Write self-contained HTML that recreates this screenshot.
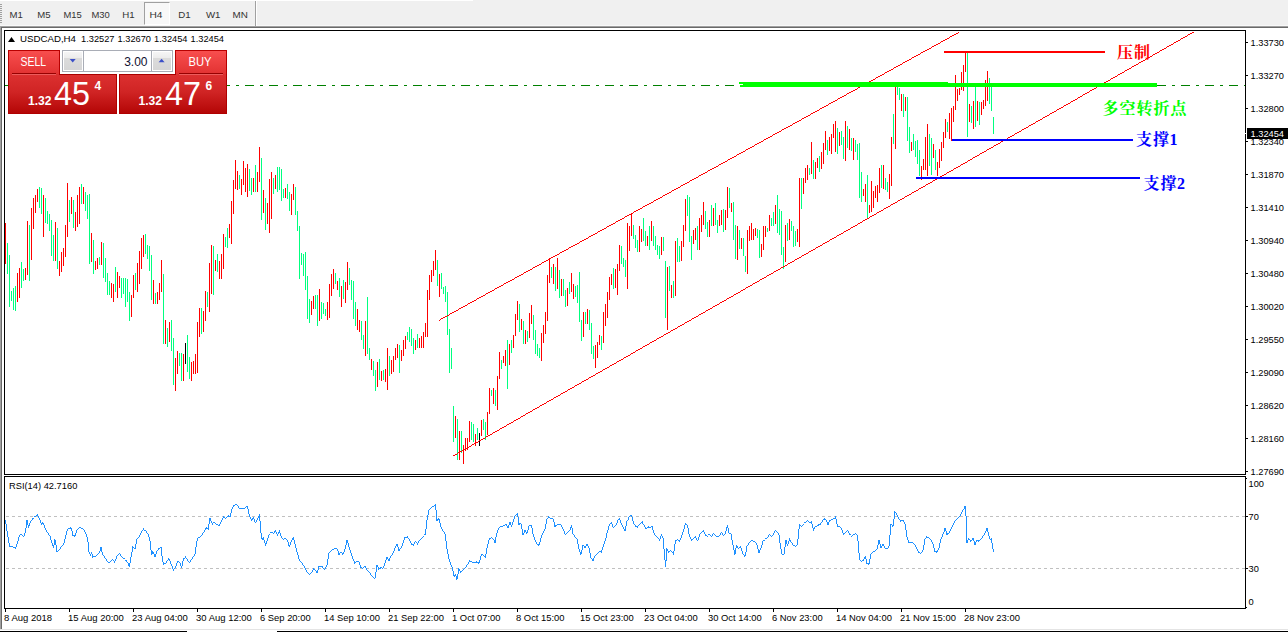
<!DOCTYPE html>
<html><head><meta charset="utf-8"><title>USDCAD,H4</title>
<style>
html,body{margin:0;padding:0;background:#fff;}
body{width:1288px;height:632px;overflow:hidden;position:relative;font-family:"Liberation Sans",sans-serif;}
.abs{position:absolute;}
#tb{left:0;top:0;width:1288px;height:26px;background:#f0f0f0;border-bottom:1px solid #f8f8f8;box-sizing:border-box;}
#tw{left:0;top:0;width:473px;height:1px;background:#fff;}
#l1{left:0;top:26px;width:1288px;height:1px;background:#a0a0a0;}
#l2{left:0;top:27px;width:1288px;height:1px;background:#696969;}
#v1{left:0;top:26px;width:1px;height:604px;background:#a0a0a0;}
#v2{left:1px;top:27px;width:1px;height:602px;background:#696969;}
#b1{left:0;top:629px;width:1288px;height:1px;background:#e4e4e4;}
#b2{left:0;top:631px;width:1288px;height:1px;background:#000;}
#b3{left:187px;top:631px;width:90px;height:1px;background:#fff;}
#h4{left:144px;top:2px;width:26px;height:23px;box-sizing:border-box;background:#f8f8f8;border:1px solid #a0a0a0;border-right-color:#fff;border-bottom-color:#fff;}
#sep{left:255px;top:1px;width:1px;height:25px;background:#a0a0a0;}
#sep2{left:256px;top:1px;width:1px;height:25px;background:#fff;}
#grip{left:0;top:4px;width:2px;height:19px;background:repeating-linear-gradient(#a0a0a0 0 1px,#f0f0f0 1px 2px);}
svg{position:absolute;left:0;top:0;}
/* one click panel */
.red{background:linear-gradient(#dc3030,#d02424 45%,#b40606);border:1px solid #b00000;border-top-color:#a80000;box-sizing:border-box;}
.tab{top:50px;height:24px;background:linear-gradient(#f84e4e,#e23232);border:1px solid #b80000;border-bottom:none;box-sizing:border-box;}
#sellT{left:8px;width:52px;}
#buyT{left:175px;width:52px;}
#sellP{left:8px;top:74px;width:109px;height:40px;}
#buyP{left:119px;top:74px;width:108px;height:40px;}
#inp{left:62px;top:50px;width:111px;height:22px;box-sizing:border-box;border:1px solid #a9adb6;background:#fff;}
.spin{top:52px;width:18px;height:18px;background:linear-gradient(#f5f5f5,#ececec 33%,#dbdbdb 36%,#d6d6d6);}
.sepv{top:51px;width:1px;height:20px;background:#a9adb6;}
</style></head><body>
<div id="tb" class="abs"></div><div id="tw" class="abs"></div><div id="grip" class="abs"></div>
<div id="h4" class="abs"></div><div id="sep" class="abs"></div><div id="sep2" class="abs"></div>
<div id="l1" class="abs"></div><div id="l2" class="abs"></div><div id="v1" class="abs"></div><div id="v2" class="abs"></div>
<div id="b1" class="abs"></div><div id="b2" class="abs"></div><div id="b3" class="abs"></div>
<svg width="1288" height="632" viewBox="0 0 1288 632">
<g font-family="Liberation Sans" font-size="9.5" fill="#333"><text x="9.5" y="17.8" textLength="13.3" lengthAdjust="spacingAndGlyphs">M1</text><text x="37.3" y="17.8" textLength="13.3" lengthAdjust="spacingAndGlyphs">M5</text><text x="63.5" y="17.8" textLength="18.3" lengthAdjust="spacingAndGlyphs">M15</text><text x="91.5" y="17.8" textLength="18.3" lengthAdjust="spacingAndGlyphs">M30</text><text x="122.3" y="17.8" textLength="12.4" lengthAdjust="spacingAndGlyphs">H1</text><text x="149.4" y="17.8" textLength="13" lengthAdjust="spacingAndGlyphs">H4</text><text x="178.3" y="17.8" textLength="12.4" lengthAdjust="spacingAndGlyphs">D1</text><text x="206" y="17.8" textLength="14.5" lengthAdjust="spacingAndGlyphs">W1</text><text x="232.6" y="17.8" textLength="15.3" lengthAdjust="spacingAndGlyphs">MN</text></g>
<g shape-rendering="crispEdges">
<rect x="4.5" y="30.5" width="1241" height="444" fill="none" stroke="#000"/>
<rect x="4.5" y="476.5" width="1241" height="132" fill="none" stroke="#000"/>
<rect x="1246" y="42" width="2" height="1" fill="#000"/>
<rect x="1246" y="75" width="2" height="1" fill="#000"/>
<rect x="1246" y="108" width="2" height="1" fill="#000"/>
<rect x="1246" y="141" width="2" height="1" fill="#000"/>
<rect x="1246" y="174" width="2" height="1" fill="#000"/>
<rect x="1246" y="207" width="2" height="1" fill="#000"/>
<rect x="1246" y="240" width="2" height="1" fill="#000"/>
<rect x="1246" y="273" width="2" height="1" fill="#000"/>
<rect x="1246" y="306" width="2" height="1" fill="#000"/>
<rect x="1246" y="339" width="2" height="1" fill="#000"/>
<rect x="1246" y="372" width="2" height="1" fill="#000"/>
<rect x="1246" y="405" width="2" height="1" fill="#000"/>
<rect x="1246" y="438" width="2" height="1" fill="#000"/>
<rect x="1246" y="471" width="2" height="1" fill="#000"/>
<rect x="1246" y="478" width="1" height="1" fill="#000"/>
<rect x="1246" y="516" width="2" height="1" fill="#000"/>
<rect x="1246" y="568" width="2" height="1" fill="#000"/>
<rect x="1246" y="607" width="1" height="1" fill="#000"/>
<rect x="5" y="609" width="1" height="3" fill="#000"/>
<rect x="69" y="609" width="1" height="3" fill="#000"/>
<rect x="133" y="609" width="1" height="3" fill="#000"/>
<rect x="197" y="609" width="1" height="3" fill="#000"/>
<rect x="261" y="609" width="1" height="3" fill="#000"/>
<rect x="325" y="609" width="1" height="3" fill="#000"/>
<rect x="389" y="609" width="1" height="3" fill="#000"/>
<rect x="453" y="609" width="1" height="3" fill="#000"/>
<rect x="517" y="609" width="1" height="3" fill="#000"/>
<rect x="581" y="609" width="1" height="3" fill="#000"/>
<rect x="645" y="609" width="1" height="3" fill="#000"/>
<rect x="709" y="609" width="1" height="3" fill="#000"/>
<rect x="773" y="609" width="1" height="3" fill="#000"/>
<rect x="837" y="609" width="1" height="3" fill="#000"/>
<rect x="901" y="609" width="1" height="3" fill="#000"/>
<rect x="965" y="609" width="1" height="3" fill="#000"/>
<path d="M6 516.5H1245M6 568.5H1245" stroke="#c0c0c0" stroke-dasharray="3 3" fill="none"/>
<path d="M5 85.5H1245" stroke="#008000" stroke-dasharray="9 6 3 6" fill="none"/>
</g>
<g shape-rendering="crispEdges" fill="none" stroke-width="1">
<path stroke="#00ff7f" d="M7.5 243V274M9.5 255V307M11.5 291V301M13.5 288V310M15.5 286V311M21.5 262V288M23.5 269V281M29.5 225V281M39.5 187V208M41.5 188V214M45.5 198V223M47.5 211V224M49.5 214V231M51.5 220V256M53.5 235V261M57.5 228V269M69.5 200V222M73.5 200V228M81.5 184V204M85.5 192V211M87.5 195V219M89.5 194V264M93.5 240V274M99.5 257V265M103.5 243V278M105.5 258V282M107.5 273V295M109.5 281V295M115.5 267V292M121.5 278V298M123.5 278V294M125.5 278V307M127.5 279V302M129.5 292V321M135.5 273V290M145.5 234V254M147.5 245V259M149.5 246V271M151.5 255V300M155.5 293V304M163.5 274V344M167.5 328V347M171.5 320V351M173.5 338V385M179.5 353V366M181.5 353V381M187.5 335V372M189.5 357V379M201.5 308V334M207.5 292V307M213.5 246V295M217.5 254V272M225.5 237V247M227.5 228V248M239.5 175V189M249.5 169V191M251.5 178V195M255.5 165V192M261.5 158V220M265.5 198V230M273.5 178V194M277.5 167V192M279.5 167V190M281.5 169V201M283.5 189V198M287.5 184V199M289.5 192V211M295.5 187V215M297.5 211V231M299.5 226V279M301.5 253V265M303.5 254V276M305.5 252V290M307.5 276V319M309.5 299V323M315.5 295V309M317.5 295V326M321.5 302V319M323.5 303V314M325.5 309V316M335.5 273V284M339.5 278V297M343.5 280V299M349.5 268V285M351.5 280V300M353.5 281V319M355.5 302V326M361.5 321V340M363.5 335V349M367.5 297V354M369.5 348V360M373.5 361V376M375.5 370V391M379.5 359V380M383.5 370V380M389.5 356V376M399.5 345V373M407.5 332V340M409.5 327V342M411.5 329V346M413.5 338V354M417.5 334V348M437.5 260V286M441.5 273V289M443.5 287V294M445.5 286V302M447.5 292V335M449.5 329V373M451.5 348V369M453.5 406V442M457.5 419V460M461.5 431V453M471.5 422V440M473.5 424V442M477.5 428V440M483.5 419V430M485.5 422V440M491.5 390V396M495.5 390V406M501.5 360V369M507.5 340V389M511.5 340V353M519.5 304V332M523.5 321V344M527.5 331V342M533.5 315V340M535.5 330V354M537.5 344V356M539.5 348V358M551.5 267V278M555.5 267V291M559.5 270V298M563.5 279V296M565.5 290V307M569.5 282V294M575.5 286V297M577.5 285V303M579.5 272V322M581.5 320V341M585.5 312V324M589.5 310V330M591.5 323V354M593.5 346V359M601.5 336V350M613.5 268V289M621.5 246V264M623.5 258V267M625.5 260V277M633.5 225V239M635.5 235V248M637.5 240V252M643.5 218V241M645.5 231V246M649.5 226V250M653.5 226V246M655.5 236V250M657.5 245V255M659.5 246V259M663.5 237V251M665.5 261V318M669.5 266V291M673.5 281V298M677.5 238V262M679.5 246V262M687.5 195V216M689.5 197V242M691.5 236V260M697.5 226V250M705.5 211V229M707.5 222V237M711.5 205V226M715.5 203V225M717.5 220V233M723.5 209V232M729.5 188V208M733.5 202V240M735.5 225V259M739.5 230V249M743.5 238V256M745.5 256V272M757.5 229V238M759.5 230V258M767.5 228V232M771.5 218V226M773.5 212V226M777.5 195V233M779.5 209V235M781.5 211V255M783.5 247V269M787.5 223V241M791.5 221V231M793.5 226V247M795.5 231V246M801.5 178V209M809.5 168V175M813.5 160V179M819.5 156V172M827.5 140V155M837.5 128V154M841.5 131V145M843.5 137V159M847.5 126V148M851.5 138V151M855.5 140V152M857.5 144V160M859.5 143V198M861.5 172V202M867.5 175V218M881.5 165V188M885.5 178V190M887.5 182V192M893.5 114V144M897.5 87V95M899.5 88V100M903.5 94V117M907.5 97V141M909.5 127V153M913.5 134V150M915.5 141V157M917.5 140V164M919.5 150V176M929.5 134V166M931.5 138V175M935.5 150V170M947.5 122V132M967.5 53V137M971.5 106V123M975.5 87V127M979.5 102V125M989.5 78V104M991.5 87V111M993.5 117V134"/>
<path stroke="#ff0000" d="M5.5 223V264M17.5 273V302M19.5 268V298M25.5 268V280M27.5 221V275M31.5 208V260M33.5 198V229M35.5 195V213M37.5 189V202M43.5 195V237M55.5 222V261M59.5 261V276M61.5 252V272M63.5 248V266M65.5 225V257M67.5 183V237M71.5 197V214M75.5 212V231M77.5 195V227M79.5 187V224M83.5 187V204M91.5 233V262M95.5 261V270M97.5 258V269M101.5 242V265M111.5 283V298M113.5 284V302M117.5 272V298M119.5 276V288M131.5 295V317M133.5 275V298M137.5 263V292M139.5 251V284M141.5 238V269M143.5 235V257M153.5 280V304M157.5 292V304M159.5 283V300M161.5 260V292M165.5 320V344M169.5 322V342M175.5 358V391M177.5 351V374M183.5 354V381M191.5 362V381M193.5 361V374M195.5 354V374M197.5 322V373M199.5 308V337M203.5 311V332M205.5 291V321M209.5 263V312M211.5 245V294M215.5 260V271M219.5 261V279M221.5 254V279M223.5 234V269M229.5 224V238M231.5 201V244M233.5 180V214M235.5 160V189M237.5 171V190M241.5 179V195M243.5 161V185M245.5 168V192M247.5 164V197M253.5 178V192M257.5 172V192M259.5 147V182M263.5 190V213M267.5 203V224M269.5 179V233M271.5 172V219M275.5 175V189M285.5 188V198M291.5 194V215M293.5 184V200M311.5 301V315M313.5 296V309M319.5 289V321M327.5 302V320M329.5 284V318M331.5 274V296M333.5 269V289M337.5 281V290M341.5 286V307M345.5 282V303M347.5 262V290M357.5 309V330M359.5 320V332M365.5 321V356M371.5 359V370M377.5 362V387M381.5 371V381M385.5 369V382M387.5 348V390M391.5 360V374M393.5 356V372M395.5 348V360M397.5 344V358M401.5 350V361M403.5 340V356M405.5 336V349M415.5 340V350M419.5 338V348M421.5 336V348M423.5 332V348M425.5 323V337M427.5 290V337M429.5 275V300M431.5 270V282M433.5 261V276M435.5 250V270M439.5 274V297M455.5 416V438M459.5 431V460M463.5 445V464M465.5 438V451M467.5 438V450M469.5 421V442M475.5 434V446M481.5 420V436M487.5 412V435M489.5 388V414M493.5 388V404M497.5 376V410M499.5 352V379M503.5 356V363M505.5 350V366M509.5 344V365M513.5 335V348M515.5 314V336M517.5 301V320M521.5 319V330M525.5 330V344M529.5 313V338M531.5 305V324M541.5 333V361M543.5 325V343M545.5 312V334M547.5 275V321M549.5 258V283M553.5 264V284M557.5 258V289M561.5 279V296M567.5 288V306M571.5 273V292M573.5 284V299M583.5 312V337M587.5 309V324M595.5 345V368M597.5 342V358M599.5 335V345M603.5 312V343M605.5 304V326M607.5 292V318M609.5 277V300M611.5 274V285M615.5 269V288M617.5 264V295M619.5 245V271M627.5 223V289M629.5 226V251M631.5 214V236M639.5 226V252M641.5 229V242M647.5 236V246M651.5 221V241M661.5 237V255M667.5 267V330M671.5 285V298M675.5 241V296M681.5 241V261M683.5 225V247M685.5 199V231M693.5 230V244M695.5 228V240M699.5 218V250M701.5 215V232M703.5 202V225M709.5 220V237M713.5 208V226M719.5 215V226M721.5 210V225M725.5 210V230M727.5 187V218M731.5 203V212M737.5 226V260M741.5 238V249M747.5 230V274M749.5 226V241M751.5 223V240M753.5 229V240M755.5 228V236M761.5 244V257M763.5 226V250M765.5 226V237M769.5 215V231M775.5 205V224M785.5 225V262M789.5 219V240M797.5 229V242M799.5 178V247M803.5 178V194M805.5 168V183M807.5 165V180M811.5 142V174M815.5 162V179M817.5 158V168M821.5 152V169M823.5 143V164M825.5 131V150M829.5 137V151M831.5 134V154M833.5 124V138M835.5 121V152M839.5 132V146M845.5 121V161M849.5 129V150M853.5 138V160M863.5 189V196M865.5 184V202M869.5 205V213M871.5 181V212M873.5 191V208M875.5 186V198M877.5 185V202M879.5 168V193M883.5 165V189M889.5 174V199M891.5 137V186M895.5 87V149M901.5 94V111M905.5 97V111M911.5 142V151M921.5 166V180M923.5 159V170M925.5 137V170M927.5 124V176M933.5 144V158M937.5 162V176M939.5 149V168M941.5 142V161M943.5 132V148M945.5 119V138M949.5 113V139M951.5 108V141M953.5 106V122M955.5 75V110M957.5 89V101M959.5 88V95M961.5 72V90M963.5 65V91M965.5 53V72M969.5 104V122M973.5 101V129M977.5 101V121M981.5 102V115M983.5 100V109M985.5 80V106M987.5 71V101"/>
<path stroke="#000" d="M185.5 343V364M479.5 433V446"/>
</g>
<g shape-rendering="crispEdges">
<path d="M958 32.5h1M1192 32.5h2M956 33.5h2M1190 33.5h2M954 34.5h2M1188 34.5h2M952 35.5h2M1187 35.5h1M950 36.5h2M1185 36.5h2M949 37.5h1M1183 37.5h2M947 38.5h2M1181 38.5h2M945 39.5h2M1180 39.5h1M943 40.5h2M1178 40.5h2M941 41.5h2M1176 41.5h2M940 42.5h1M1174 42.5h2M938 43.5h2M1173 43.5h1M936 44.5h2M1171 44.5h2M934 45.5h2M1169 45.5h2M932 46.5h2M1167 46.5h2M931 47.5h1M1166 47.5h1M929 48.5h2M1164 48.5h2M927 49.5h2M1162 49.5h2M925 50.5h2M1160 50.5h2M923 51.5h2M1159 51.5h1M921 52.5h2M1157 52.5h2M920 53.5h1M1155 53.5h2M918 54.5h2M1153 54.5h2M916 55.5h2M1152 55.5h1M914 56.5h2M1150 56.5h2M912 57.5h2M1148 57.5h2M911 58.5h1M1146 58.5h2M909 59.5h2M1145 59.5h1M907 60.5h2M1143 60.5h2M905 61.5h2M1141 61.5h2M903 62.5h2M1139 62.5h2M902 63.5h1M1138 63.5h1M900 64.5h2M1136 64.5h2M898 65.5h2M1134 65.5h2M896 66.5h2M1132 66.5h2M894 67.5h2M1131 67.5h1M893 68.5h1M1129 68.5h2M891 69.5h2M1127 69.5h2M889 70.5h2M1125 70.5h2M887 71.5h2M1124 71.5h1M885 72.5h2M1122 72.5h2M884 73.5h1M1120 73.5h2M882 74.5h2M1118 74.5h2M880 75.5h2M1117 75.5h1M878 76.5h2M1115 76.5h2M876 77.5h2M1113 77.5h2M875 78.5h1M1111 78.5h2M873 79.5h2M1110 79.5h1M871 80.5h2M1108 80.5h2M869 81.5h2M1106 81.5h2M867 82.5h2M1104 82.5h2M866 83.5h1M1103 83.5h1M864 84.5h2M1101 84.5h2M862 85.5h2M1099 85.5h2M860 86.5h2M1097 86.5h2M858 87.5h2M1096 87.5h1M857 88.5h1M1094 88.5h2M855 89.5h2M1092 89.5h2M853 90.5h2M1090 90.5h2M851 91.5h2M1089 91.5h1M849 92.5h2M1087 92.5h2M847 93.5h2M1085 93.5h2M846 94.5h1M1083 94.5h2M844 95.5h2M1082 95.5h1M842 96.5h2M1080 96.5h2M840 97.5h2M1078 97.5h2M838 98.5h2M1077 98.5h1M837 99.5h1M1075 99.5h2M835 100.5h2M1073 100.5h2M833 101.5h2M1071 101.5h2M831 102.5h2M1070 102.5h1M829 103.5h2M1068 103.5h2M828 104.5h1M1066 104.5h2M826 105.5h2M1064 105.5h2M824 106.5h2M1063 106.5h1M822 107.5h2M1061 107.5h2M820 108.5h2M1059 108.5h2M819 109.5h1M1057 109.5h2M817 110.5h2M1056 110.5h1M815 111.5h2M1054 111.5h2M813 112.5h2M1052 112.5h2M811 113.5h2M1050 113.5h2M810 114.5h1M1049 114.5h1M808 115.5h2M1047 115.5h2M806 116.5h2M1045 116.5h2M804 117.5h2M1043 117.5h2M802 118.5h2M1042 118.5h1M801 119.5h1M1040 119.5h2M799 120.5h2M1038 120.5h2M797 121.5h2M1036 121.5h2M795 122.5h2M1035 122.5h1M793 123.5h2M1033 123.5h2M792 124.5h1M1031 124.5h2M790 125.5h2M1029 125.5h2M788 126.5h2M1028 126.5h1M786 127.5h2M1026 127.5h2M784 128.5h2M1024 128.5h2M782 129.5h2M1022 129.5h2M781 130.5h1M1021 130.5h1M779 131.5h2M1019 131.5h2M777 132.5h2M1017 132.5h2M775 133.5h2M1015 133.5h2M773 134.5h2M1014 134.5h1M772 135.5h1M1012 135.5h2M770 136.5h2M1010 136.5h2M768 137.5h2M1008 137.5h2M766 138.5h2M1007 138.5h1M764 139.5h2M1005 139.5h2M763 140.5h1M1003 140.5h2M761 141.5h2M1001 141.5h2M759 142.5h2M1000 142.5h1M757 143.5h2M998 143.5h2M755 144.5h2M996 144.5h2M754 145.5h1M994 145.5h2M752 146.5h2M993 146.5h1M750 147.5h2M991 147.5h2M748 148.5h2M989 148.5h2M746 149.5h2M987 149.5h2M745 150.5h1M986 150.5h1M743 151.5h2M984 151.5h2M741 152.5h2M982 152.5h2M739 153.5h2M980 153.5h2M737 154.5h2M979 154.5h1M736 155.5h1M977 155.5h2M734 156.5h2M975 156.5h2M732 157.5h2M973 157.5h2M730 158.5h2M972 158.5h1M728 159.5h2M970 159.5h2M727 160.5h1M968 160.5h2M725 161.5h2M967 161.5h1M723 162.5h2M965 162.5h2M721 163.5h2M963 163.5h2M719 164.5h2M961 164.5h2M718 165.5h1M960 165.5h1M716 166.5h2M958 166.5h2M714 167.5h2M956 167.5h2M712 168.5h2M954 168.5h2M710 169.5h2M953 169.5h1M708 170.5h2M951 170.5h2M707 171.5h1M949 171.5h2M705 172.5h2M947 172.5h2M703 173.5h2M946 173.5h1M701 174.5h2M944 174.5h2M699 175.5h2M942 175.5h2M698 176.5h1M940 176.5h2M696 177.5h2M939 177.5h1M694 178.5h2M937 178.5h2M692 179.5h2M935 179.5h2M690 180.5h2M933 180.5h2M689 181.5h1M932 181.5h1M687 182.5h2M930 182.5h2M685 183.5h2M928 183.5h2M683 184.5h2M926 184.5h2M681 185.5h2M925 185.5h1M680 186.5h1M923 186.5h2M678 187.5h2M921 187.5h2M676 188.5h2M919 188.5h2M674 189.5h2M918 189.5h1M672 190.5h2M916 190.5h2M671 191.5h1M914 191.5h2M669 192.5h2M912 192.5h2M667 193.5h2M911 193.5h1M665 194.5h2M909 194.5h2M663 195.5h2M907 195.5h2M662 196.5h1M905 196.5h2M660 197.5h2M904 197.5h1M658 198.5h2M902 198.5h2M656 199.5h2M900 199.5h2M654 200.5h2M898 200.5h2M653 201.5h1M897 201.5h1M651 202.5h2M895 202.5h2M649 203.5h2M893 203.5h2M647 204.5h2M891 204.5h2M645 205.5h2M890 205.5h1M643 206.5h2M888 206.5h2M642 207.5h1M886 207.5h2M640 208.5h2M884 208.5h2M638 209.5h2M883 209.5h1M636 210.5h2M881 210.5h2M634 211.5h2M879 211.5h2M633 212.5h1M877 212.5h2M631 213.5h2M876 213.5h1M629 214.5h2M874 214.5h2M627 215.5h2M872 215.5h2M625 216.5h2M870 216.5h2M624 217.5h1M869 217.5h1M622 218.5h2M867 218.5h2M620 219.5h2M865 219.5h2M618 220.5h2M863 220.5h2M616 221.5h2M862 221.5h1M615 222.5h1M860 222.5h2M613 223.5h2M858 223.5h2M611 224.5h2M857 224.5h1M609 225.5h2M855 225.5h2M607 226.5h2M853 226.5h2M606 227.5h1M851 227.5h2M604 228.5h2M850 228.5h1M602 229.5h2M848 229.5h2M600 230.5h2M846 230.5h2M598 231.5h2M844 231.5h2M597 232.5h1M843 232.5h1M595 233.5h2M841 233.5h2M593 234.5h2M839 234.5h2M591 235.5h2M837 235.5h2M589 236.5h2M836 236.5h1M588 237.5h1M834 237.5h2M586 238.5h2M832 238.5h2M584 239.5h2M830 239.5h2M582 240.5h2M829 240.5h1M580 241.5h2M827 241.5h2M579 242.5h1M825 242.5h2M577 243.5h2M823 243.5h2M575 244.5h2M822 244.5h1M573 245.5h2M820 245.5h2M571 246.5h2M818 246.5h2M569 247.5h2M816 247.5h2M568 248.5h1M815 248.5h1M566 249.5h2M813 249.5h2M564 250.5h2M811 250.5h2M562 251.5h2M809 251.5h2M560 252.5h2M808 252.5h1M559 253.5h1M806 253.5h2M557 254.5h2M804 254.5h2M555 255.5h2M802 255.5h2M553 256.5h2M801 256.5h1M551 257.5h2M799 257.5h2M550 258.5h1M797 258.5h2M548 259.5h2M795 259.5h2M546 260.5h2M794 260.5h1M544 261.5h2M792 261.5h2M542 262.5h2M790 262.5h2M541 263.5h1M788 263.5h2M539 264.5h2M787 264.5h1M537 265.5h2M785 265.5h2M535 266.5h2M783 266.5h2M533 267.5h2M781 267.5h2M532 268.5h1M780 268.5h1M530 269.5h2M778 269.5h2M528 270.5h2M776 270.5h2M526 271.5h2M774 271.5h2M524 272.5h2M773 272.5h1M523 273.5h1M771 273.5h2M521 274.5h2M769 274.5h2M519 275.5h2M767 275.5h2M517 276.5h2M766 276.5h1M515 277.5h2M764 277.5h2M514 278.5h1M762 278.5h2M512 279.5h2M760 279.5h2M510 280.5h2M759 280.5h1M508 281.5h2M757 281.5h2M506 282.5h2M755 282.5h2M504 283.5h2M753 283.5h2M503 284.5h1M752 284.5h1M501 285.5h2M750 285.5h2M499 286.5h2M748 286.5h2M497 287.5h2M746 287.5h2M495 288.5h2M745 288.5h1M494 289.5h1M743 289.5h2M492 290.5h2M741 290.5h2M490 291.5h2M740 291.5h1M488 292.5h2M738 292.5h2M486 293.5h2M736 293.5h2M485 294.5h1M734 294.5h2M483 295.5h2M733 295.5h1M481 296.5h2M731 296.5h2M479 297.5h2M729 297.5h2M477 298.5h2M727 298.5h2M476 299.5h1M726 299.5h1M474 300.5h2M724 300.5h2M472 301.5h2M722 301.5h2M470 302.5h2M720 302.5h2M468 303.5h2M719 303.5h1M467 304.5h1M717 304.5h2M465 305.5h2M715 305.5h2M463 306.5h2M713 306.5h2M461 307.5h2M712 307.5h1M459 308.5h2M710 308.5h2M458 309.5h1M708 309.5h2M456 310.5h2M706 310.5h2M454 311.5h2M705 311.5h1M452 312.5h2M703 312.5h2M450 313.5h2M701 313.5h2M449 314.5h1M699 314.5h2M447 315.5h2M698 315.5h1M445 316.5h2M696 316.5h2M443 317.5h2M694 317.5h2M441 318.5h2M692 318.5h2M440 319.5h1M691 319.5h1M439 320.5h1M689 320.5h2M687 321.5h2M685 322.5h2M684 323.5h1M682 324.5h2M680 325.5h2M678 326.5h2M677 327.5h1M675 328.5h2M673 329.5h2M671 330.5h2M670 331.5h1M668 332.5h2M666 333.5h2M664 334.5h2M663 335.5h1M661 336.5h2M659 337.5h2M657 338.5h2M656 339.5h1M654 340.5h2M652 341.5h2M650 342.5h2M649 343.5h1M647 344.5h2M645 345.5h2M643 346.5h2M642 347.5h1M640 348.5h2M638 349.5h2M636 350.5h2M635 351.5h1M633 352.5h2M631 353.5h2M630 354.5h1M628 355.5h2M626 356.5h2M624 357.5h2M623 358.5h1M621 359.5h2M619 360.5h2M617 361.5h2M616 362.5h1M614 363.5h2M612 364.5h2M610 365.5h2M609 366.5h1M607 367.5h2M605 368.5h2M603 369.5h2M602 370.5h1M600 371.5h2M598 372.5h2M596 373.5h2M595 374.5h1M593 375.5h2M591 376.5h2M589 377.5h2M588 378.5h1M586 379.5h2M584 380.5h2M582 381.5h2M581 382.5h1M579 383.5h2M577 384.5h2M575 385.5h2M574 386.5h1M572 387.5h2M570 388.5h2M568 389.5h2M567 390.5h1M565 391.5h2M563 392.5h2M561 393.5h2M560 394.5h1M558 395.5h2M556 396.5h2M554 397.5h2M553 398.5h1M551 399.5h2M549 400.5h2M547 401.5h2M546 402.5h1M544 403.5h2M542 404.5h2M540 405.5h2M539 406.5h1M537 407.5h2M535 408.5h2M533 409.5h2M532 410.5h1M530 411.5h2M528 412.5h2M526 413.5h2M525 414.5h1M523 415.5h2M521 416.5h2M520 417.5h1M518 418.5h2M516 419.5h2M514 420.5h2M513 421.5h1M511 422.5h2M509 423.5h2M507 424.5h2M506 425.5h1M504 426.5h2M502 427.5h2M500 428.5h2M499 429.5h1M497 430.5h2M495 431.5h2M493 432.5h2M492 433.5h1M490 434.5h2M488 435.5h2M486 436.5h2M485 437.5h1M483 438.5h2M481 439.5h2M479 440.5h2M478 441.5h1M476 442.5h2M474 443.5h2M472 444.5h2M471 445.5h1M469 446.5h2M467 447.5h2M465 448.5h2M464 449.5h1M462 450.5h2M460 451.5h2M458 452.5h2M457 453.5h1M455 454.5h2M453 455.5h2" stroke="#ff0000" fill="none"/>
<rect x="944" y="51" width="161" height="2" fill="#ff0000"/>
<path d="M739 82H948V87H740V85H743V84H739Z" fill="#00ff00"/>
<rect x="948" y="83" width="209" height="4" fill="#00ff00"/>
<rect x="952" y="139" width="181" height="2" fill="#0000ff"/>
<rect x="916" y="177" width="224" height="2" fill="#0000ff"/>
</g>
<text x="1117 1134" y="58.08" font-family="'Liberation Serif','Noto Serif CJK SC',serif" font-weight="bold" font-size="16" fill="#ff0000">压制</text>
<text x="1102.5 1119.5 1136.5 1153.5 1170.5" y="114.08" font-family="'Liberation Serif','Noto Serif CJK SC',serif" font-weight="bold" font-size="16" fill="#00ff00">多空转折点</text>
<text x="1136 1153" y="145.08" font-family="'Liberation Serif','Noto Serif CJK SC',serif" font-weight="bold" font-size="16" fill="#0000ff">支撑</text>
<text x="1143.5 1160.5" y="189.08" font-family="'Liberation Serif','Noto Serif CJK SC',serif" font-weight="bold" font-size="16" fill="#0000ff">支撑</text>
<text x="1169.5" y="145" font-family="Liberation Serif" font-weight="bold" font-size="16" fill="#0000ff">1</text>
<text x="1177" y="189" font-family="Liberation Serif" font-weight="bold" font-size="16" fill="#0000ff">2</text>
<path shape-rendering="crispEdges" fill="none" stroke="#1e90ff" d="M5.5 520v4M6.5 524v7M7.5 531v6M8.5 537v6M9.5 543v4M10.5 546v1M11.5 546v1M12.5 546v1M13.5 547v1M14.5 547v1M15.5 547v2M16.5 544v3M17.5 541v3M18.5 537v4M19.5 535v2M20.5 534v1M21.5 534v1M22.5 535v1M23.5 536v1M24.5 533v3M25.5 528v5M26.5 520v8M27.5 520v5M28.5 525v3M29.5 523v3M30.5 521v2M31.5 520v1M32.5 518v2M33.5 518v1M34.5 516v1M35.5 516v1M36.5 515v1M37.5 514v2M38.5 516v2M39.5 518v2M40.5 520v3M41.5 523v2M42.5 522v2M43.5 523v2M44.5 525v3M45.5 528v2M46.5 530v2M47.5 532v1M48.5 533v2M49.5 535v1M50.5 536v4M51.5 540v3M52.5 543v3M53.5 545v3M54.5 539v6M55.5 540v5M56.5 545v7M57.5 551v1M58.5 550v1M59.5 549v1M60.5 547v2M61.5 546v1M62.5 545v1M63.5 543v2M64.5 539v4M65.5 535v4M66.5 531v4M67.5 529v2M68.5 528v1M69.5 528v1M70.5 527v2M71.5 528v3M72.5 531v5M73.5 535v1M74.5 535v2M75.5 533v3M76.5 530v3M77.5 529v1M78.5 528v1M79.5 527v1M80.5 527v1M81.5 528v1M82.5 528v1M83.5 529v1M84.5 530v2M85.5 532v2M86.5 534v3M87.5 537v5M88.5 542v10M89.5 552v2M90.5 554v2M91.5 552v2M92.5 554v4M93.5 556v1M94.5 556v1M95.5 556v1M96.5 555v1M97.5 554v1M98.5 553v1M99.5 551v2M100.5 547v4M101.5 547v5M102.5 552v3M103.5 555v1M104.5 556v2M105.5 558v1M106.5 559v2M107.5 561v1M108.5 562v1M109.5 562v1M110.5 561v1M111.5 560v1M112.5 559v1M113.5 560v1M114.5 561v2M115.5 559v2M116.5 556v3M117.5 555v1M118.5 554v1M119.5 553v1M120.5 554v2M121.5 556v1M122.5 557v1M123.5 558v1M124.5 558v1M125.5 560v1M126.5 560v2M127.5 562v1M128.5 563v3M129.5 563v4M130.5 557v6M131.5 552v5M132.5 546v6M133.5 547v1M134.5 548v1M135.5 544v5M136.5 539v5M137.5 538v1M138.5 537v1M139.5 535v2M140.5 533v2M141.5 531v2M142.5 530v1M143.5 528v2M144.5 530v1M145.5 530v1M146.5 531v2M147.5 533v1M148.5 534v3M149.5 537v4M150.5 541v9M151.5 550v5M152.5 551v3M153.5 552v2M154.5 554v3M155.5 554v3M156.5 551v3M157.5 550v1M158.5 548v2M159.5 548v1M160.5 547v1M161.5 547v9M162.5 556v6M163.5 562v3M164.5 563v1M165.5 563v1M166.5 561v2M167.5 560v1M168.5 558v2M169.5 559v2M170.5 561v3M171.5 564v2M172.5 566v3M173.5 569v2M174.5 568v1M175.5 566v2M176.5 563v3M177.5 561v2M178.5 561v1M179.5 562v1M180.5 563v3M181.5 566v2M182.5 561v5M183.5 558v3M184.5 558v1M185.5 556v2M186.5 558v1M187.5 559v2M188.5 561v1M189.5 562v1M190.5 560v2M191.5 559v1M192.5 557v2M193.5 556v1M194.5 554v2M195.5 547v7M196.5 541v6M197.5 538v3M198.5 537v1M199.5 537v1M200.5 536v1M201.5 535v1M202.5 533v2M203.5 532v1M204.5 530v2M205.5 528v2M206.5 527v2M207.5 528v1M208.5 524v6M209.5 518v6M210.5 518v3M211.5 521v2M212.5 523v2M213.5 522v1M214.5 522v1M215.5 523v1M216.5 524v1M217.5 524v1M218.5 525v1M219.5 524v2M220.5 522v2M221.5 520v2M222.5 518v2M223.5 516v2M224.5 517v1M225.5 518v1M226.5 517v1M227.5 516v1M228.5 515v2M229.5 516v1M230.5 513v4M231.5 509v4M232.5 507v2M233.5 505v2M234.5 505v1M235.5 504v1M236.5 504v1M237.5 505v1M238.5 506v2M239.5 508v1M240.5 508v1M241.5 508v1M242.5 508v1M243.5 508v1M244.5 508v1M245.5 507v1M246.5 506v1M247.5 506v3M248.5 509v5M249.5 514v3M250.5 517v2M251.5 519v2M252.5 518v2M253.5 517v2M254.5 519v3M255.5 522v1M256.5 520v2M257.5 518v2M258.5 516v2M259.5 514v7M260.5 521v12M261.5 533v6M262.5 538v2M263.5 537v3M264.5 540v3M265.5 543v3M266.5 541v3M267.5 538v3M268.5 535v3M269.5 534v1M270.5 532v1M271.5 532v1M272.5 532v1M273.5 533v1M274.5 531v2M275.5 530v2M276.5 532v2M277.5 534v2M278.5 532v2M279.5 530v3M280.5 533v3M281.5 536v2M282.5 538v1M283.5 539v1M284.5 538v1M285.5 538v1M286.5 539v1M287.5 540v2M288.5 542v4M289.5 545v2M290.5 542v3M291.5 540v2M292.5 538v2M293.5 537v3M294.5 540v4M295.5 544v4M296.5 548v4M297.5 552v3M298.5 555v4M299.5 559v2M300.5 561v1M301.5 562v1M302.5 563v2M303.5 565v1M304.5 566v2M305.5 568v2M306.5 570v2M307.5 572v1M308.5 573v1M309.5 574v1M310.5 573v1M311.5 572v1M312.5 570v2M313.5 568v2M314.5 569v1M315.5 570v1M316.5 571v2M317.5 570v3M318.5 566v4M319.5 566v1M320.5 566v1M321.5 566v1M322.5 566v2M323.5 568v1M324.5 569v1M325.5 567v2M326.5 565v2M327.5 559v6M328.5 553v6M329.5 552v1M330.5 551v1M331.5 550v1M332.5 549v1M333.5 549v1M334.5 548v1M335.5 548v1M336.5 548v1M337.5 549v2M338.5 551v4M339.5 553v2M340.5 552v1M341.5 552v1M342.5 553v2M343.5 552v2M344.5 549v3M345.5 545v4M346.5 540v5M347.5 540v3M348.5 543v4M349.5 547v3M350.5 550v3M351.5 553v3M352.5 556v3M353.5 559v2M354.5 561v3M355.5 562v1M356.5 561v1M357.5 561v1M358.5 561v1M359.5 562v3M360.5 565v3M361.5 567v1M362.5 568v1M363.5 567v1M364.5 566v1M365.5 566v2M366.5 568v2M367.5 570v1M368.5 571v1M369.5 572v1M370.5 573v2M371.5 575v1M372.5 576v1M373.5 577v1M374.5 578v1M375.5 572v6M376.5 565v7M377.5 565v2M378.5 567v3M379.5 568v1M380.5 567v2M381.5 567v1M382.5 568v1M383.5 566v2M384.5 563v3M385.5 560v3M386.5 557v3M387.5 557v2M388.5 559v2M389.5 558v3M390.5 556v2M391.5 555v1M392.5 553v2M393.5 551v2M394.5 548v3M395.5 546v2M396.5 544v2M397.5 544v3M398.5 547v4M399.5 549v2M400.5 548v1M401.5 546v2M402.5 543v3M403.5 540v3M404.5 537v3M405.5 537v1M406.5 537v1M407.5 536v2M408.5 538v1M409.5 539v2M410.5 541v2M411.5 543v2M412.5 544v1M413.5 544v2M414.5 542v2M415.5 541v1M416.5 542v1M417.5 543v2M418.5 541v2M419.5 540v1M420.5 539v1M421.5 538v1M422.5 537v1M423.5 536v1M424.5 534v1M425.5 529v6M426.5 520v9M427.5 515v5M428.5 510v5M429.5 509v1M430.5 508v1M431.5 507v1M432.5 506v1M433.5 506v1M434.5 505v1M435.5 504v6M436.5 510v11M437.5 519v2M438.5 518v2M439.5 519v4M440.5 523v4M441.5 527v2M442.5 529v2M443.5 531v1M444.5 532v2M445.5 534v7M446.5 541v8M447.5 549v5M448.5 554v5M449.5 559v3M450.5 562v3M451.5 565v2M452.5 567v4M453.5 571v5M454.5 575v2M455.5 574v2M456.5 576v4M457.5 574v5M458.5 568v6M459.5 569v2M460.5 571v2M461.5 571v1M462.5 570v1M463.5 569v1M464.5 568v1M465.5 567v1M466.5 565v2M467.5 564v1M468.5 562v2M469.5 560v2M470.5 561v1M471.5 561v1M472.5 562v1M473.5 562v1M474.5 562v1M475.5 562v1M476.5 561v2M477.5 562v1M478.5 562v2M479.5 560v3M480.5 556v4M481.5 554v2M482.5 554v1M483.5 555v1M484.5 556v1M485.5 554v4M486.5 548v6M487.5 544v4M488.5 540v4M489.5 538v2M490.5 538v1M491.5 537v1M492.5 538v1M493.5 539v1M494.5 540v3M495.5 537v6M496.5 533v4M497.5 530v3M498.5 528v2M499.5 527v1M500.5 526v1M501.5 526v1M502.5 526v1M503.5 525v1M504.5 525v1M505.5 524v1M506.5 524v2M507.5 526v2M508.5 525v3M509.5 522v3M510.5 522v3M511.5 525v2M512.5 522v3M513.5 519v3M514.5 516v3M515.5 515v1M516.5 514v1M517.5 513v4M518.5 517v8M519.5 523v2M520.5 523v1M521.5 524v5M522.5 529v6M523.5 533v2M524.5 530v3M525.5 530v2M526.5 532v2M527.5 530v3M528.5 526v4M529.5 525v1M530.5 525v1M531.5 525v3M532.5 528v6M533.5 534v3M534.5 537v3M535.5 540v2M536.5 542v2M537.5 544v1M538.5 544v2M539.5 542v3M540.5 538v4M541.5 535v3M542.5 533v2M543.5 531v2M544.5 529v2M545.5 524v5M546.5 519v5M547.5 518v1M548.5 516v2M549.5 517v1M550.5 518v1M551.5 518v1M552.5 518v1M553.5 519v3M554.5 522v5M555.5 525v2M556.5 525v1M557.5 524v1M558.5 524v1M559.5 524v1M560.5 524v1M561.5 525v2M562.5 527v2M563.5 529v2M564.5 531v3M565.5 534v1M566.5 533v1M567.5 532v1M568.5 531v1M569.5 530v1M570.5 527v3M571.5 525v3M572.5 528v6M573.5 534v1M574.5 535v2M575.5 537v1M576.5 538v1M577.5 539v5M578.5 544v5M579.5 549v3M580.5 552v3M581.5 550v4M582.5 545v5M583.5 545v1M584.5 546v2M585.5 546v2M586.5 544v2M587.5 544v2M588.5 546v2M589.5 548v5M590.5 553v5M591.5 558v1M592.5 559v2M593.5 558v3M594.5 556v2M595.5 555v1M596.5 554v1M597.5 553v1M598.5 552v1M599.5 551v1M600.5 551v1M601.5 550v3M602.5 547v3M603.5 544v3M604.5 541v3M605.5 538v3M606.5 533v5M607.5 530v3M608.5 526v4M609.5 524v2M610.5 523v1M611.5 522v2M612.5 524v3M613.5 527v1M614.5 526v1M615.5 525v1M616.5 523v2M617.5 520v3M618.5 519v1M619.5 518v2M620.5 520v3M621.5 523v2M622.5 525v2M623.5 527v2M624.5 529v2M625.5 526v5M626.5 521v5M627.5 520v1M628.5 517v3M629.5 516v1M630.5 515v1M631.5 515v2M632.5 517v4M633.5 521v3M634.5 524v1M635.5 525v2M636.5 526v1M637.5 526v2M638.5 525v1M639.5 524v1M640.5 523v1M641.5 522v1M642.5 521v3M643.5 524v1M644.5 525v2M645.5 527v2M646.5 528v1M647.5 527v1M648.5 526v2M649.5 527v1M650.5 527v1M651.5 526v1M652.5 526v4M653.5 530v3M654.5 533v2M655.5 535v1M656.5 536v1M657.5 537v1M658.5 538v1M659.5 539v2M660.5 536v3M661.5 534v2M662.5 536v2M663.5 538v11M664.5 549v11M665.5 560v7M666.5 548v13M667.5 549v2M668.5 551v2M669.5 551v1M670.5 550v1M671.5 551v1M672.5 552v1M673.5 551v4M674.5 544v7M675.5 540v4M676.5 540v1M677.5 539v1M678.5 540v1M679.5 540v2M680.5 538v2M681.5 535v3M682.5 532v3M683.5 529v3M684.5 525v4M685.5 523v2M686.5 524v1M687.5 525v3M688.5 528v6M689.5 534v3M690.5 537v2M691.5 539v2M692.5 539v1M693.5 538v1M694.5 537v1M695.5 536v2M696.5 538v2M697.5 540v1M698.5 537v3M699.5 534v3M700.5 533v1M701.5 532v1M702.5 531v1M703.5 530v2M704.5 532v2M705.5 534v2M706.5 535v1M707.5 536v1M708.5 534v1M709.5 534v1M710.5 535v1M711.5 536v1M712.5 534v2M713.5 533v1M714.5 534v1M715.5 535v1M716.5 536v1M717.5 536v1M718.5 536v1M719.5 535v1M720.5 533v2M721.5 532v1M722.5 533v2M723.5 535v1M724.5 534v1M725.5 531v3M726.5 527v4M727.5 525v3M728.5 528v5M729.5 533v1M730.5 533v1M731.5 534v6M732.5 540v5M733.5 545v5M734.5 550v5M735.5 548v6M736.5 545v3M737.5 546v2M738.5 548v1M739.5 547v1M740.5 546v2M741.5 548v3M742.5 551v3M743.5 554v1M744.5 555v2M745.5 552v4M746.5 546v6M747.5 545v1M748.5 543v2M749.5 542v1M750.5 541v1M751.5 540v1M752.5 540v1M753.5 541v1M754.5 541v1M755.5 542v1M756.5 543v2M757.5 545v4M758.5 549v4M759.5 550v3M760.5 548v2M761.5 545v3M762.5 541v4M763.5 540v1M764.5 540v1M765.5 538v1M766.5 538v1M767.5 537v1M768.5 535v2M769.5 534v1M770.5 535v1M771.5 536v1M772.5 535v1M773.5 533v2M774.5 531v2M775.5 530v1M776.5 531v1M777.5 532v1M778.5 533v2M779.5 535v8M780.5 543v6M781.5 549v5M782.5 554v1M783.5 554v1M784.5 547v7M785.5 540v7M786.5 540v4M787.5 544v2M788.5 541v3M789.5 538v3M790.5 540v2M791.5 542v1M792.5 543v2M793.5 545v1M794.5 545v1M795.5 546v1M796.5 545v1M797.5 539v6M798.5 529v10M799.5 524v5M800.5 525v1M801.5 526v1M802.5 525v1M803.5 524v1M804.5 522v1M805.5 522v1M806.5 521v1M807.5 520v1M808.5 521v1M809.5 522v1M810.5 522v1M811.5 521v3M812.5 524v4M813.5 528v3M814.5 527v2M815.5 526v1M816.5 526v1M817.5 525v1M818.5 524v2M819.5 524v1M820.5 523v2M821.5 522v1M822.5 520v2M823.5 519v1M824.5 518v2M825.5 519v1M826.5 520v2M827.5 522v3M828.5 522v3M829.5 520v2M830.5 520v1M831.5 519v1M832.5 519v1M833.5 518v1M834.5 518v1M835.5 516v3M836.5 519v5M837.5 524v3M838.5 526v1M839.5 526v1M840.5 527v1M841.5 528v2M842.5 530v3M843.5 533v2M844.5 533v1M845.5 532v1M846.5 531v1M847.5 530v1M848.5 531v2M849.5 533v2M850.5 534v1M851.5 536v1M852.5 535v1M853.5 534v1M854.5 534v1M855.5 533v1M856.5 534v1M857.5 535v6M858.5 541v12M859.5 553v7M860.5 560v1M861.5 561v1M862.5 560v1M863.5 559v2M864.5 557v2M865.5 556v3M866.5 559v5M867.5 563v1M868.5 563v2M869.5 559v5M870.5 554v5M871.5 553v1M872.5 552v1M873.5 551v1M874.5 551v1M875.5 550v1M876.5 549v1M877.5 545v4M878.5 540v5M879.5 540v4M880.5 544v4M881.5 546v2M882.5 544v2M883.5 544v2M884.5 546v2M885.5 548v1M886.5 548v1M887.5 548v1M888.5 546v2M889.5 535v11M890.5 524v11M891.5 524v1M892.5 525v2M893.5 519v7M894.5 511v8M895.5 512v1M896.5 513v2M897.5 515v2M898.5 517v2M899.5 519v1M900.5 520v2M901.5 520v1M902.5 520v1M903.5 520v2M904.5 522v2M905.5 524v6M906.5 530v7M907.5 537v3M908.5 540v3M909.5 542v1M910.5 542v1M911.5 542v1M912.5 542v1M913.5 543v1M914.5 544v1M915.5 545v2M916.5 547v2M917.5 549v2M918.5 551v2M919.5 552v1M920.5 553v1M921.5 552v1M922.5 550v2M923.5 545v5M924.5 539v6M925.5 538v1M926.5 536v2M927.5 537v1M928.5 537v1M929.5 538v1M930.5 539v1M931.5 540v2M932.5 542v2M933.5 544v4M934.5 548v4M935.5 551v1M936.5 551v2M937.5 550v2M938.5 548v2M939.5 543v5M940.5 539v4M941.5 537v2M942.5 534v3M943.5 532v2M944.5 528v4M945.5 528v3M946.5 531v4M947.5 533v2M948.5 533v1M949.5 531v2M950.5 529v2M951.5 527v2M952.5 525v2M953.5 523v2M954.5 521v2M955.5 520v1M956.5 519v1M957.5 518v1M958.5 517v1M959.5 516v1M960.5 514v2M961.5 512v2M962.5 510v2M963.5 509v1M964.5 506v3M965.5 506v10M966.5 516v27M967.5 540v3M968.5 538v2M969.5 539v1M970.5 540v2M971.5 540v1M972.5 538v2M973.5 538v3M974.5 541v4M975.5 542v3M976.5 540v2M977.5 540v1M978.5 540v2M979.5 540v1M980.5 539v1M981.5 538v1M982.5 536v2M983.5 535v1M984.5 533v2M985.5 531v2M986.5 528v3M987.5 528v4M988.5 532v4M989.5 536v3M990.5 539v1M991.5 538v5M992.5 543v6M993.5 549v3"/>
<g font-family="Liberation Sans" font-size="9.8" fill="#000">
<text x="1250.5" y="46" textLength="33.5" lengthAdjust="spacingAndGlyphs">1.33730</text>
<text x="1250.5" y="79" textLength="33.5" lengthAdjust="spacingAndGlyphs">1.33270</text>
<text x="1250.5" y="112" textLength="33.5" lengthAdjust="spacingAndGlyphs">1.32800</text>
<text x="1250.5" y="145" textLength="33.5" lengthAdjust="spacingAndGlyphs">1.32340</text>
<text x="1250.5" y="178" textLength="33.5" lengthAdjust="spacingAndGlyphs">1.31870</text>
<text x="1250.5" y="211" textLength="33.5" lengthAdjust="spacingAndGlyphs">1.31410</text>
<text x="1250.5" y="244" textLength="33.5" lengthAdjust="spacingAndGlyphs">1.30940</text>
<text x="1250.5" y="277" textLength="33.5" lengthAdjust="spacingAndGlyphs">1.30480</text>
<text x="1250.5" y="310" textLength="33.5" lengthAdjust="spacingAndGlyphs">1.30020</text>
<text x="1250.5" y="343" textLength="33.5" lengthAdjust="spacingAndGlyphs">1.29550</text>
<text x="1250.5" y="376" textLength="33.5" lengthAdjust="spacingAndGlyphs">1.29090</text>
<text x="1250.5" y="409" textLength="33.5" lengthAdjust="spacingAndGlyphs">1.28620</text>
<text x="1250.5" y="442" textLength="33.5" lengthAdjust="spacingAndGlyphs">1.28160</text>
<text x="1250.5" y="475" textLength="33.5" lengthAdjust="spacingAndGlyphs">1.27690</text>
<text x="1248.5" y="487" textLength="15.5" lengthAdjust="spacingAndGlyphs">100</text>
<text x="1248.5" y="520" textLength="10.3" lengthAdjust="spacingAndGlyphs">70</text>
<text x="1248.5" y="572" textLength="10.3" lengthAdjust="spacingAndGlyphs">30</text>
<text x="1248.5" y="605" textLength="5.2" lengthAdjust="spacingAndGlyphs">0</text>
<text x="4" y="620.7" textLength="48.03" lengthAdjust="spacingAndGlyphs">8 Aug 2018</text>
<text x="68" y="620.7" textLength="55.86" lengthAdjust="spacingAndGlyphs">15 Aug 20:00</text>
<text x="132" y="620.7" textLength="55.86" lengthAdjust="spacingAndGlyphs">23 Aug 04:00</text>
<text x="196" y="620.7" textLength="55.86" lengthAdjust="spacingAndGlyphs">30 Aug 12:00</text>
<text x="260" y="620.7" textLength="50.64" lengthAdjust="spacingAndGlyphs">6 Sep 20:00</text>
<text x="324" y="620.7" textLength="55.86" lengthAdjust="spacingAndGlyphs">14 Sep 10:00</text>
<text x="388" y="620.7" textLength="55.86" lengthAdjust="spacingAndGlyphs">21 Sep 22:00</text>
<text x="452" y="620.7" textLength="48.54" lengthAdjust="spacingAndGlyphs">1 Oct 07:00</text>
<text x="516" y="620.7" textLength="48.54" lengthAdjust="spacingAndGlyphs">8 Oct 15:00</text>
<text x="580" y="620.7" textLength="53.76" lengthAdjust="spacingAndGlyphs">15 Oct 23:00</text>
<text x="644" y="620.7" textLength="53.76" lengthAdjust="spacingAndGlyphs">23 Oct 04:00</text>
<text x="708" y="620.7" textLength="53.76" lengthAdjust="spacingAndGlyphs">30 Oct 14:00</text>
<text x="772" y="620.7" textLength="50.63" lengthAdjust="spacingAndGlyphs">6 Nov 23:00</text>
<text x="836" y="620.7" textLength="55.85" lengthAdjust="spacingAndGlyphs">14 Nov 04:00</text>
<text x="900" y="620.7" textLength="55.85" lengthAdjust="spacingAndGlyphs">21 Nov 15:00</text>
<text x="964" y="620.7" textLength="55.85" lengthAdjust="spacingAndGlyphs">28 Nov 23:00</text>
<text x="9" y="489" textLength="68.32" lengthAdjust="spacingAndGlyphs">RSI(14) 42.7160</text>
<text x="20" y="42" textLength="56" lengthAdjust="spacingAndGlyphs">USDCAD,H4</text>
<text x="81" y="42" textLength="33.5" lengthAdjust="spacingAndGlyphs">1.32527</text>
<text x="117.5" y="42" textLength="33.5" lengthAdjust="spacingAndGlyphs">1.32670</text>
<text x="154" y="42" textLength="33.5" lengthAdjust="spacingAndGlyphs">1.32454</text>
<text x="190.5" y="42" textLength="33.5" lengthAdjust="spacingAndGlyphs">1.32454</text>
</g>
<path d="M8 42L11.5 37L15 42Z" fill="#000"/>
<rect x="1247" y="128" width="41" height="11" fill="#000" shape-rendering="crispEdges"/><rect x="1245" y="133" width="2" height="1" fill="#fff" shape-rendering="crispEdges"/>
<text x="1250.5" y="137" font-family="Liberation Sans" font-size="9.8" fill="#fff" textLength="33.5" lengthAdjust="spacingAndGlyphs">1.32454</text>
</svg>
<div class="abs" style="left:8px;top:50px;width:219px;height:64px;background:#fff"></div>
<div id="sellP" class="abs red"></div><div id="buyP" class="abs red"></div>
<div id="sellT" class="abs tab"></div><div id="buyT" class="abs tab"></div>
<div id="inp" class="abs"></div>
<div class="abs spin" style="left:64px"></div><div class="abs spin" style="left:153px"></div>
<div class="abs sepv" style="left:83px"></div><div class="abs sepv" style="left:151px"></div>
<svg width="1288" height="632" viewBox="0 0 1288 632" font-family="Liberation Sans">
<g shape-rendering="crispEdges"><rect x="9" y="74" width="50" height="1" fill="#dc3030"/><rect x="176" y="74" width="50" height="1" fill="#dc3030"/>
<rect x="12" y="73" width="44" height="1" fill="#960000"/><rect x="12" y="74" width="44" height="1" fill="#ec5c5c"/>
<rect x="179" y="73" width="44" height="1" fill="#960000"/><rect x="179" y="74" width="44" height="1" fill="#ec5c5c"/></g>
<path d="M69.7 59h6l-3 3.4z" fill="#3c50c8"/>
<path d="M158.6 62.2h6l-3 -3.4z" fill="#3c50c8"/>
<text x="20.5" y="66" font-size="13" fill="#fff" textLength="25.5" lengthAdjust="spacingAndGlyphs">SELL</text>
<text x="188.5" y="66" font-size="13" fill="#fff" textLength="23" lengthAdjust="spacingAndGlyphs">BUY</text>
<text x="147.5" y="66" font-size="12" fill="#101030" text-anchor="end">3.00</text>
<text x="28" y="105" font-size="12.5" font-weight="bold" fill="#fff" textLength="23.5" lengthAdjust="spacingAndGlyphs">1.32</text>
<text x="138.5" y="105" font-size="12.5" font-weight="bold" fill="#fff" textLength="23.5" lengthAdjust="spacingAndGlyphs">1.32</text>
<text x="54" y="105" font-size="33" fill="#fff" textLength="36" lengthAdjust="spacingAndGlyphs">45</text>
<text x="165" y="105" font-size="33" fill="#fff" textLength="36" lengthAdjust="spacingAndGlyphs">47</text>
<text x="94.5" y="89.5" font-size="12" font-weight="bold" fill="#fff">4</text>
<text x="205.5" y="89.5" font-size="12" font-weight="bold" fill="#fff">6</text>
</svg>
</body></html>
